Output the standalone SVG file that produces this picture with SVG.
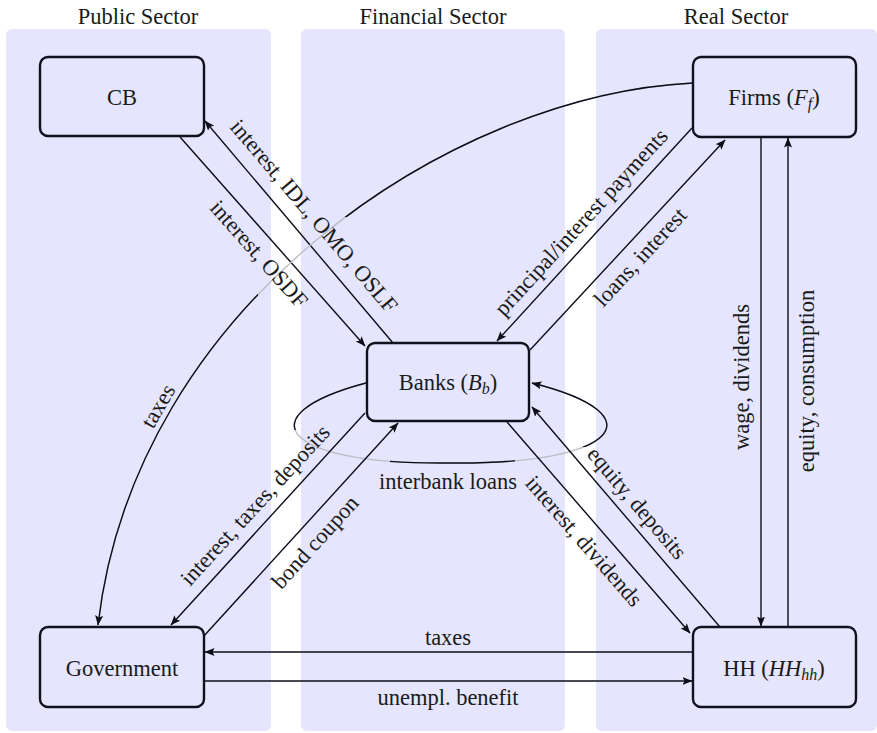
<svg xmlns="http://www.w3.org/2000/svg" width="877" height="733" viewBox="0 0 877 733">
<style>
.panel{fill:#e5e5fd}
.node rect{fill:#e5e5fd;stroke:#10101e;stroke-width:2.4}
text{font-family:'Liberation Serif','Times New Roman',serif;font-size:22.5px;fill:#1a1a1a}
.c{fill:none;stroke:#0d0d1a;stroke-width:1.4}
.g{fill:none;stroke:#bdbdc6;stroke-width:1.4}
.m{font-style:italic}
</style>
<defs>
<marker id="ah" markerUnits="userSpaceOnUse" markerWidth="12" markerHeight="10" refX="9.5" refY="4" orient="auto">
<path d="M0,0 L10,4 L0,8 L2,4 Z" fill="#0d0d1a"/>
</marker>
<clipPath id="taxClip"><path clip-rule="evenodd" d="M0 0H877V733H0Z M258 217H348V298H258Z"/></clipPath>
<clipPath id="loopClip">
<rect x="0" y="0" width="390" height="430"/>
<rect x="390" y="0" width="125" height="733"/>
<rect x="515" y="0" width="362" height="447"/>
</clipPath>
</defs>

<g id="panels">
<rect class="panel" x="6" y="29" width="265" height="702" rx="6"/>
<rect class="panel" x="301" y="29" width="264" height="702" rx="6"/>
<rect class="panel" x="596" y="29" width="281" height="702" rx="6"/>
<text x="138" y="23.5" text-anchor="middle">Public Sector</text>
<text x="433" y="23.5" text-anchor="middle">Financial Sector</text>
<text x="736" y="23.5" text-anchor="middle">Real Sector</text>
</g>

<g id="connectors">
<path class="c" d="M180,137 L365,346" marker-end="url(#ah)"/>
<path class="c" d="M393,343 L205,121" marker-end="url(#ah)"/>
<path class="c" d="M692,128 L497,341" marker-end="url(#ah)"/>
<path class="c" d="M530,350 L725,140" marker-end="url(#ah)"/>
<path class="g" d="M693,83 C450,95 135,305 98,625"/>
<path class="c" d="M693,83 C450,95 135,305 98,625" clip-path="url(#taxClip)" marker-end="url(#ah)"/>
<path class="g" d="M366,383 C245,415 280,465 450,463 C618,465 660,415 532,383"/>
<path class="c" d="M366,383 C245,415 280,465 450,463 C618,465 660,415 532,383" clip-path="url(#loopClip)" marker-end="url(#ah)"/>
<path class="c" d="M365,413 L171,625" marker-end="url(#ah)"/>
<path class="c" d="M203,637 L398,423" marker-end="url(#ah)"/>
<path class="c" d="M507,422 L690,633" marker-end="url(#ah)"/>
<path class="c" d="M720,627 L532,407" marker-end="url(#ah)"/>
<path class="c" d="M761,137 L761,626" marker-end="url(#ah)"/>
<path class="c" d="M788,627 L788,138" marker-end="url(#ah)"/>
<path class="c" d="M693,652 L205,652" marker-end="url(#ah)"/>
<path class="c" d="M204,681 L692,681" marker-end="url(#ah)"/>

<text transform="translate(314,216) rotate(49.7)" y="7.5" text-anchor="middle">interest, IDL, OMO, OSLF</text>
<text transform="translate(259,254) rotate(48.5)" y="7.5" text-anchor="middle">interest, OSDF</text>
<text transform="translate(581,222) rotate(-47.5)" y="7.5" text-anchor="middle">principal/interest payments</text>
<text transform="translate(640,257) rotate(-47.3)" y="7.5" text-anchor="middle">loans, interest</text>
<text transform="translate(158,406) rotate(-60)" y="7.5" text-anchor="middle">taxes</text>
<text x="448" y="488.5" text-anchor="middle">interbank loans</text>
<text transform="translate(255,505) rotate(-47.4)" y="7.5" text-anchor="middle">interest, taxes, deposits</text>
<text transform="translate(315,542) rotate(-47.6)" y="7.5" text-anchor="middle">bond coupon</text>
<text transform="translate(584,541) rotate(49)" y="7.5" text-anchor="middle">interest, dividends</text>
<text transform="translate(637,503) rotate(49.5)" y="7.5" text-anchor="middle">equity, deposits</text>
<text transform="translate(741,377) rotate(-90)" y="7.5" text-anchor="middle">wage, dividends</text>
<text transform="translate(806,381) rotate(-90)" y="7.5" text-anchor="middle">equity, consumption</text>
<text x="448" y="644.5" text-anchor="middle">taxes</text>
<text x="448" y="704.5" text-anchor="middle">unempl. benefit</text>
</g>

<g id="CB" class="node">
<rect x="40" y="57" width="164" height="79" rx="8"/>
<text x="122" y="104.5" text-anchor="middle">CB</text>
</g>
<g id="Banks" class="node">
<rect x="367" y="343" width="162" height="78" rx="8"/>
<text x="448" y="389.5" text-anchor="middle">Banks (<tspan class="m">B</tspan><tspan class="m" font-size="16" dy="4">b</tspan><tspan dy="-4">)</tspan></text>
</g>
<g id="Firms" class="node">
<rect x="693" y="57" width="163" height="80" rx="8"/>
<text x="774" y="104.5" text-anchor="middle">Firms (<tspan class="m">F</tspan><tspan class="m" font-size="16" dy="4">f</tspan><tspan dy="-4">)</tspan></text>
</g>
<g id="Government" class="node">
<rect x="40" y="627" width="164" height="80" rx="8"/>
<text x="122" y="675.5" text-anchor="middle">Government</text>
</g>
<g id="HH" class="node">
<rect x="693" y="627" width="163" height="80" rx="8"/>
<text x="774" y="675.5" text-anchor="middle">HH (<tspan class="m">HH</tspan><tspan class="m" font-size="16" dy="4">hh</tspan><tspan dy="-4">)</tspan></text>
</g>
</svg>
